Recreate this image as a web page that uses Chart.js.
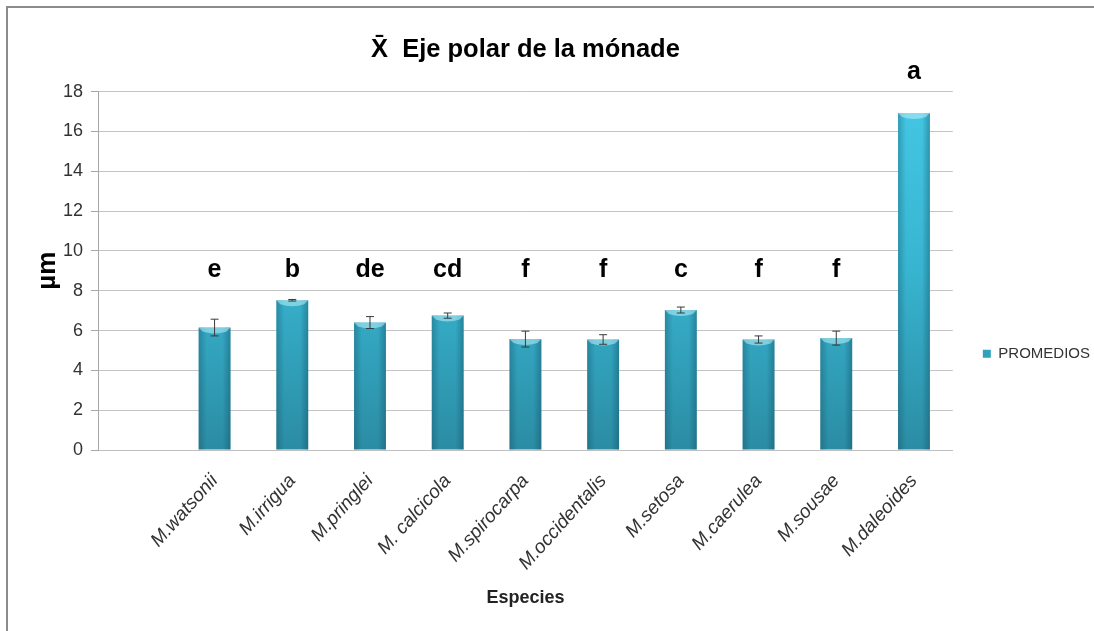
<!DOCTYPE html>
<html>
<head>
<meta charset="utf-8">
<title>Eje polar de la mónade</title>
<script src="https://cdn.jsdelivr.net/npm/chart.js@4/dist/chart.umd.min.js"></script>
<style>
    html, body { margin: 0; padding: 0; background: #fff; }
    #wrap { width: 1094px; height: 631px; }
</style>
</head>
<body>
<div id="wrap"><canvas id="monade"></canvas></div>
<script>
// species (first slot is left empty on the axis)
var species = ["", "M.watsonii", "M.irrigua", "M.pringlei", "M. calcicola", "M.spirocarpa",
    "M.occidentalis", "M.setosa", "M.caerulea", "M.sousae", "M.daleoides"];
// mean polar axis, µm
var promedios = [null, 6.15, 7.52, 6.4, 6.75, 5.57, 5.55, 7.03, 5.55, 5.62, 16.93];
// standard error
var errores = [0, 0.42, 0.04, 0.3, 0.13, 0.4, 0.24, 0.15, 0.18, 0.35, 0];
// Tukey groups
var grupos = ["", "e", "b", "de", "cd", "f", "f", "c", "f", "f", "a"];
var yTicks = [0, 2, 4, 6, 8, 10, 12, 14, 16, 18];

var FONT = "'Liberation Sans', Arial, sans-serif";
var LETTER_LEVEL = 8.7;

//Frame around the whole figure

var framePlugin = {
    id: "frame",
    beforeDraw: function(chart) {
        var ctx = chart.ctx;
        ctx.save();
        ctx.strokeStyle = "#8c8c8c";
        ctx.lineWidth = 2;
        ctx.beginPath();
        ctx.moveTo(7, chart.height);
        ctx.lineTo(7, 7);
        ctx.lineTo(chart.width, 7);
        ctx.stroke();
        ctx.restore();
    }
};

//Bar shading, error bars and group letters

var barExtras = {
    id: "barExtras",
    afterDatasetsDraw: function(chart) {
        var ctx = chart.ctx;
        var y = chart.scales.y;
        var meta = chart.getDatasetMeta(0);
        ctx.save();
        meta.data.forEach(function(bar, i) {
            if (promedios[i] == null) return;
            var left = bar.x - bar.width / 2;
            var right = bar.x + bar.width / 2;

            // rounded look: darker edges
            var side = ctx.createLinearGradient(left, 0, right, 0);
            side.addColorStop(0, "rgba(10,60,80,0.3)");
            side.addColorStop(0.25, "rgba(10,60,80,0)");
            side.addColorStop(0.75, "rgba(10,60,80,0)");
            side.addColorStop(1, "rgba(10,60,80,0.35)");
            ctx.fillStyle = side;
            ctx.fillRect(left, bar.y, bar.width, bar.base - bar.y);

            // light cap on top
            ctx.fillStyle = "rgba(190,240,250,0.55)";
            ctx.beginPath();
            ctx.moveTo(left, bar.y);
            ctx.lineTo(right, bar.y);
            ctx.lineTo(right - 4, bar.y + 4);
            ctx.quadraticCurveTo(bar.x, bar.y + 8, left + 4, bar.y + 4);
            ctx.closePath();
            ctx.fill();

            // error bar
            var err = errores[i];
            if (err > 0) {
                var top = y.getPixelForValue(promedios[i] + err);
                var bot = y.getPixelForValue(promedios[i] - err);
                ctx.strokeStyle = "#3a3a3a";
                ctx.lineWidth = 1;
                ctx.beginPath();
                ctx.moveTo(bar.x, top);
                ctx.lineTo(bar.x, bot);
                ctx.moveTo(bar.x - 4, top);
                ctx.lineTo(bar.x + 4, top);
                ctx.moveTo(bar.x - 4, bot);
                ctx.lineTo(bar.x + 4, bot);
                ctx.stroke();
            }

            // group letter
            var level = promedios[i] > LETTER_LEVEL ? promedios[i] + 1.7 : LETTER_LEVEL;
            ctx.fillStyle = "#000";
            ctx.font = "bold 25px " + FONT;
            ctx.textAlign = "center";
            ctx.textBaseline = "alphabetic";
            ctx.fillText(grupos[i], bar.x, y.getPixelForValue(level));
        });
        ctx.restore();
    }
};

var chart = new Chart(document.getElementById("monade"), {
    type: "bar",
    data: {
        labels: species,
        datasets: [
            {
                label: "PROMEDIOS",
                data: promedios,
                backgroundColor: function(context) {
                    var area = context.chart.chartArea;
                    if (!area) return "#33a9c6";
                    var g = context.chart.ctx.createLinearGradient(0, area.bottom, 0, area.top);
                    g.addColorStop(0, "#2b8ca4");
                    g.addColorStop(0.5, "#38b4d0");
                    g.addColorStop(1, "#44c8e5");
                    return g;
                },
                borderWidth: 0,
                categoryPercentage: 1,
                barPercentage: 0.41
            }
        ]
    },
    options: {
        responsive: true,
        maintainAspectRatio: false,
        animation: false,
        layout: {
            padding: { top: 16, left: 10, right: -6, bottom: 15 }
        },
        plugins: {
            title: {
                display: true,
                fullSize: false,
                text: "X\u0304  Eje polar de la mónade",
                color: "#000",
                font: { family: FONT, size: 25.5, weight: "bold" },
                padding: { top: 19, bottom: 26 }
            },
            legend: {
                position: "right",
                title: {
                    display: true,
                    text: " ",
                    font: { size: 13 },
                    padding: 30
                },
                labels: {
                    boxWidth: 8,
                    boxHeight: 8,
                    padding: 30,
                    color: "#333",
                    font: { family: FONT, size: 15 }
                }
            },
            tooltip: { enabled: false }
        },
        scales: {
            x: {
                grid: { display: false },
                border: { display: true, color: "#bfbfbf" },
                ticks: {
                    color: "#333",
                    autoSkip: false,
                    maxRotation: 48,
                    minRotation: 48,
                    padding: 12,
                    font: { family: FONT, size: 19, style: "italic" }
                },
                title: {
                    display: true,
                    text: "Especies",
                    color: "#222",
                    font: { family: FONT, size: 18, weight: "bold" },
                    padding: { top: 0, bottom: 7 }
                },
                afterFit: function(scale) {
                    scale.height = 166;
                }
            },
            y: {
                min: 0,
                max: 18,
                afterBuildTicks: function(scale) {
                    scale.ticks = yTicks.map(function(v) { return { value: v }; });
                },
                grid: {
                    color: "#c4c4c4",
                    tickLength: 7,
                    tickColor: "#a6a6a6"
                },
                border: { display: true, color: "#a6a6a6" },
                ticks: {
                    color: "#333",
                    padding: 8,
                    font: { family: FONT, size: 18 }
                },
                title: {
                    display: true,
                    text: "µm",
                    color: "#000",
                    font: { family: FONT, size: 26, weight: "bold" },
                    padding: { top: 22, bottom: 0 }
                },
                afterFit: function(scale) {
                    scale.width = 88;
                }
            }
        }
    },
    plugins: [framePlugin, barExtras]
});
</script>
</body>
</html>
